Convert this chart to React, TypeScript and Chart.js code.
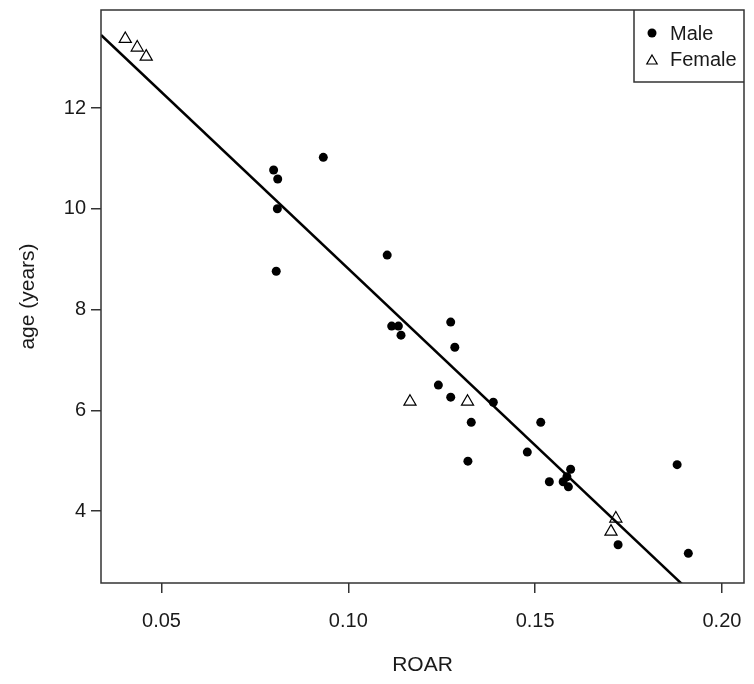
import React, { useEffect, useRef } from "react";
import { Chart, registerables } from "chart.js";

Chart.register(...registerables);

const maleROAR = [0.0933, 0.0800, 0.0811, 0.0810, 0.0807, 0.1104, 0.1116, 0.1134, 0.1141, 0.1274, 0.1285, 0.1241, 0.1274, 0.1388, 0.1329, 0.1515, 0.1320, 0.1479, 0.1595, 0.1538, 0.1575, 0.1585, 0.1589, 0.1880, 0.1722, 0.1910];
const maleAge = [11.02, 10.77, 10.59, 10.0, 8.76, 9.08, 7.67, 7.67, 7.49, 7.75, 7.25, 6.5, 6.26, 6.16, 5.76, 5.76, 4.99, 5.17, 4.83, 4.58, 4.58, 4.68, 4.48, 4.92, 3.33, 3.16];
const femaleROAR = [0.0403, 0.0435, 0.0459, 0.1165, 0.1319, 0.1716, 0.1703];
const femaleAge = [13.37, 13.2, 13.02, 6.17, 6.17, 3.85, 3.59];

const fitIntercept = 15.82;
const fitSlope = -70.1;

const xTicks = [0.05, 0.1, 0.15, 0.2];
const yTicks = [4, 6, 8, 10, 12];
const xMin = 0.0338;
const xMax = 0.2059;
const yMin = 2.571;
const yMax = 13.945;

const FONT = "'Liberation Sans', Arial, sans-serif";

const boxPlugin = {
  id: "boxAndLegend",
  afterDraw(chart: any) {
    const { ctx, chartArea } = chart;
    const { left, top, right, bottom } = chartArea;
    ctx.save();
    ctx.strokeStyle = "#333";
    ctx.lineWidth = 1.5;
    ctx.strokeRect(left, top, right - left, bottom - top);
    // legend box
    const lx = 634;
    const lb = 82;
    ctx.beginPath();
    ctx.moveTo(lx, top);
    ctx.lineTo(lx, lb);
    ctx.lineTo(right, lb);
    ctx.stroke();
    // male symbol
    ctx.fillStyle = "#000";
    ctx.beginPath();
    ctx.arc(652, 33, 4.5, 0, Math.PI * 2);
    ctx.fill();
    // female symbol
    const r = 6;
    ctx.strokeStyle = "#000";
    ctx.lineWidth = 1.2;
    ctx.beginPath();
    ctx.moveTo(652, 61 - r);
    ctx.lineTo(652 + r * 0.866, 61 + r / 2);
    ctx.lineTo(652 - r * 0.866, 61 + r / 2);
    ctx.closePath();
    ctx.stroke();
    ctx.fillStyle = "#1a1a1a";
    ctx.font = `20px ${FONT}`;
    ctx.textBaseline = "middle";
    ctx.textAlign = "left";
    ctx.fillText("Male", 670, 34);
    ctx.fillText("Female", 670, 60);
    ctx.restore();
  },
};

export default function App() {
  const ref = useRef<HTMLCanvasElement | null>(null);

  useEffect(() => {
    if (!ref.current) return;
    const maleData = maleROAR.map((x, i) => ({ x, y: maleAge[i] }));
    const femaleData = femaleROAR.map((x, i) => ({ x, y: femaleAge[i] }));
    const fitData = [xMin, xMax].map((x) => ({ x, y: fitIntercept + fitSlope * x }));

    const chart = new Chart(ref.current, {
      type: "scatter",
      data: {
        datasets: [
          {
            type: "line",
            label: "fit",
            data: fitData,
            borderColor: "#000",
            borderWidth: 2.5,
            pointRadius: 0,
            fill: false,
          } as any,
          {
            label: "Male",
            data: maleData,
            pointStyle: "circle",
            pointRadius: 4.5,
            backgroundColor: "#000",
            borderColor: "#000",
            borderWidth: 0,
          },
          {
            label: "Female",
            data: femaleData,
            pointStyle: "triangle",
            pointRadius: 7,
            backgroundColor: "rgba(255,255,255,0)",
            borderColor: "#000",
            borderWidth: 1.2,
          },
        ],
      },
      options: {
        animation: false,
        responsive: false,
        maintainAspectRatio: false,
        layout: { padding: { left: 0, top: 10, right: 10, bottom: 0 } },
        plugins: { legend: { display: false }, tooltip: { enabled: false } },
        scales: {
          x: {
            type: "linear",
            min: xMin,
            max: xMax,
            afterBuildTicks: (s: any) => {
              s.ticks = xTicks.map((v) => ({ value: v }));
            },
            afterFit: (s: any) => {
              s.height = 101;
              s.paddingLeft = 0;
              s.paddingRight = 0;
            },
            ticks: {
              callback: (v: any) => Number(v).toFixed(2),
              font: { family: FONT, size: 20 },
              color: "#1a1a1a",
              padding: 16,
              maxRotation: 0,
            },
            grid: { drawOnChartArea: false, drawTicks: true, tickLength: 10, color: "#333", lineWidth: 1.5 },
            border: { display: false },
            title: {
              display: true,
              text: "ROAR",
              font: { family: FONT, size: 21 },
              color: "#1a1a1a",
              padding: { top: 0, bottom: 6 },
            },
          },
          y: {
            type: "linear",
            min: yMin,
            max: yMax,
            afterBuildTicks: (s: any) => {
              s.ticks = yTicks.map((v) => ({ value: v }));
            },
            afterFit: (s: any) => {
              s.width = 101;
              s.paddingTop = 0;
              s.paddingBottom = 0;
            },
            ticks: {
              font: { family: FONT, size: 20 },
              color: "#1a1a1a",
              padding: 5,
            },
            grid: { drawOnChartArea: false, drawTicks: true, tickLength: 10, color: "#333", lineWidth: 1.5 },
            border: { display: false },
            title: {
              display: true,
              text: "age (years)",
              font: { family: FONT, size: 21 },
              color: "#1a1a1a",
              padding: { top: 16, bottom: 0 },
            },
          },
        },
      },
      plugins: [boxPlugin],
    });
    return () => chart.destroy();
  }, []);

  return (
    <div style={{ position: "absolute", left: 0, top: 0, width: 754, height: 684, background: "#fff" }}>
      <canvas ref={ref} width={754} height={684} style={{ width: 754, height: 684, display: "block" }} />
    </div>
  );
}
